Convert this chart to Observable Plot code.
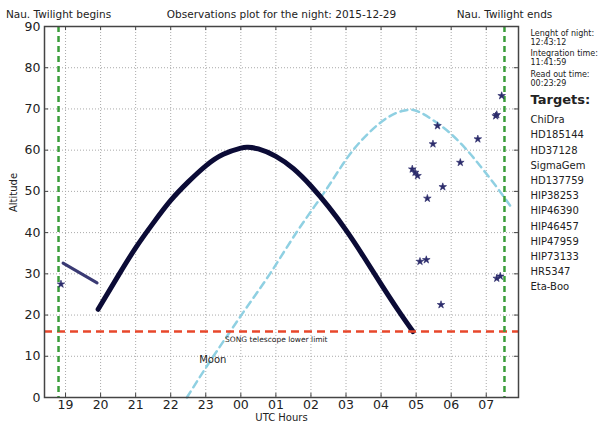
<!DOCTYPE html>
<html><head><meta charset="utf-8">
<script src="https://cdn.jsdelivr.net/npm/d3@7"></script>
<script src="https://cdn.jsdelivr.net/npm/@observablehq/plot@0.6"></script>
<style>body{margin:0;background:#fff;font-family:"DejaVu Sans",sans-serif}</style>
</head><body><div id="chart"></div>
<script>
const plotTitle = "Observations plot for the night: 2015-12-29";
const twilightBegin = 18.80;
const twilightEnd = 31.52;
const limitAltitude = 16;
const xTicks = [19, 20, 21, 22, 23, 24, 25, 26, 27, 28, 29, 30, 31];
const xTickLabels = ["19", "20", "21", "22", "23", "00", "01", "02", "03", "04", "05", "06", "07"];
const yTicks = [0, 10, 20, 30, 40, 50, 60, 70, 80, 90];

// main target track (UTC hours, >24 = next day)
const mainHours = [19.93, 20.5, 21.0, 21.5, 22.0, 22.5, 23.0, 23.5, 24.0, 24.2, 24.5, 25.0, 25.5, 26.0, 26.5, 27.0, 27.5, 28.0, 28.5, 28.91];
const mainAlt   = [21.4, 29.5, 36.3, 42.3, 47.8, 52.3, 56.2, 59.0, 60.5, 60.7, 60.3, 58.5, 55.5, 51.3, 46.3, 40.6, 34.2, 27.5, 21.0, 16.0];

// first target (ChiDra) short track
const firstHours = [18.93, 19.90];
const firstAlt   = [32.6, 27.8];

// single exposures (stars)
const starHours = [18.87, 31.44, 31.27, 31.30, 29.61, 29.48, 30.76, 30.26, 28.89, 28.97, 29.04, 29.76, 29.32, 29.11, 29.29, 31.30, 31.40, 29.71];
const starAlt   = [27.5, 73.2, 68.3, 68.6, 65.9, 61.5, 62.7, 57.0, 55.4, 54.6, 53.8, 51.1, 48.3, 33.0, 33.4, 28.9, 29.4, 22.5];

// Moon altitude
const moonHours = [22.46, 23.0, 24.0, 24.83, 25.6, 26.4, 27.2, 27.7, 28.2, 28.6, 28.85, 29.2, 29.48, 29.96, 30.43, 30.9, 31.38, 31.75];
const moonAlt   = [0, 7.2, 19.8, 30.0, 40.2, 50.0, 60.0, 64.6, 68.0, 69.5, 69.8, 68.8, 67.3, 64.2, 60.2, 55.4, 50.1, 45.7];

const infoNight = ["Lenght of night:", "12:43:12"];
const infoIntegration = ["Integration time:", "11:41:59"];
const infoReadout = ["Read out time:", "00:23:29"];
const targetsHeading = "Targets:";
const targetNames = ["ChiDra", "HD185144", "HD37128", "SigmaGem", "HD137759", "HIP38253", "HIP46390", "HIP46457", "HIP47959", "HIP73133", "HR5347", "Eta-Boo"];

const main = mainHours.map((h, i) => ({h, a: mainAlt[i]}));
const first = firstHours.map((h, i) => ({h, a: firstAlt[i]}));
const stars = starHours.map((h, i) => ({h, a: starAlt[i]}));
const moon = moonHours.map((h, i) => ({h, a: moonAlt[i]}));
const xDomain = [twilightBegin - 0.4, twilightEnd + 0.4];
const yDomain = [0, 90];

const font = "DejaVu Sans";
const chart = Plot.plot({
  width: 598, height: 426,
  marginLeft: 44, marginRight: 80, marginTop: 26, marginBottom: 29,
  style: {fontFamily: font, fontSize: "12.5px", background: "#fff", color: "#222"},
  x: {domain: xDomain, ticks: xTicks, tickFormat: d => xTickLabels[xTicks.indexOf(d)], tickSize: 0, tickPadding: 3, label: null},
  y: {domain: yDomain, ticks: yTicks, tickSize: 0, tickPadding: 4, label: null},
  marks: [
    Plot.ruleX(xTicks, {stroke: "#aaa", strokeDasharray: "1,2", strokeWidth: 1}),
    Plot.ruleY(yTicks.slice(1, -1), {stroke: "#aaa", strokeDasharray: "1,2", strokeWidth: 1}),
    // inward tick marks
    Plot.ruleX(xTicks, {y1: yDomain[0], y2: yDomain[0] + 1, stroke: "#444"}),
    Plot.ruleX(xTicks, {y1: yDomain[1] - 1, y2: yDomain[1], stroke: "#444"}),
    Plot.ruleY(yTicks, {x1: xDomain[0], x2: xDomain[0] + 0.12, stroke: "#444"}),
    Plot.ruleY(yTicks, {x1: xDomain[1] - 0.12, x2: xDomain[1], stroke: "#444"}),
    Plot.line(moon, {x: "h", y: "a", stroke: "#8fd0e2", strokeWidth: 2.5, strokeDasharray: "7,5", curve: "monotone-x"}),
    Plot.line(main, {x: "h", y: "a", stroke: "#0b0b36", strokeWidth: 5, curve: "natural"}),
    Plot.line(first, {x: "h", y: "a", stroke: "#3a3a74", strokeWidth: 3}),
    Plot.ruleY([limitAltitude], {stroke: "#e8472b", strokeWidth: 2.5, strokeDasharray: "8,5"}),
    Plot.ruleX([twilightBegin, twilightEnd], {stroke: "#3a9d3a", strokeWidth: 2.5, strokeDasharray: "6,4"}),
    Plot.dot(stars, {x: "h", y: "a", symbol: "star", r: 2.4, fill: "#2b2b6b", stroke: "#2b2b6b", strokeWidth: 0.6}),
    Plot.frame({stroke: "#444", strokeWidth: 1.5}),
    Plot.text(["Moon"], {x: 23.2, y: 9.1, text: d => d, fontSize: 10, fill: "#222"}),
    Plot.text(["SONG telescope lower limit"], {x: twilightBegin + 4.75, y: limitAltitude, dy: 8, text: d => d, textAnchor: "start", fontSize: 7.5, fill: "#222"}),
    Plot.text([plotTitle], {frameAnchor: "top", dy: -15.5, text: d => d, fontSize: 10.5}),
    Plot.text([twilightBegin], {x: d => d, frameAnchor: "top", dy: -15.5, text: () => "Nau. Twilight begins", fontSize: 10.5}),
    Plot.text([twilightEnd], {x: d => d, frameAnchor: "top", dy: -15.5, text: () => "Nau. Twilight ends", fontSize: 10.5}),
    Plot.text(["Altitude"], {frameAnchor: "left", dx: -31, rotate: -90, text: d => d, fontSize: 10}),
    Plot.text(["UTC Hours"], {frameAnchor: "bottom", dy: 23, text: d => d, fontSize: 10}),
    Plot.text([infoNight.join("\n")], {frameAnchor: "top-right", dx: 12, dy: 3, textAnchor: "start", lineAnchor: "top", lineHeight: 1.15, text: d => d, fontSize: 8}),
    Plot.text([infoIntegration.join("\n")], {frameAnchor: "top-right", dx: 12, dy: 23, textAnchor: "start", lineAnchor: "top", lineHeight: 1.15, text: d => d, fontSize: 8}),
    Plot.text([infoReadout.join("\n")], {frameAnchor: "top-right", dx: 12, dy: 44, textAnchor: "start", lineAnchor: "top", lineHeight: 1.15, text: d => d, fontSize: 8}),
    Plot.text([targetsHeading], {frameAnchor: "top-right", dx: 12, dy: 68, textAnchor: "start", lineAnchor: "top", text: d => d, fontSize: 13, fontWeight: "bold"}),
    Plot.text([targetNames.join("\n")], {frameAnchor: "top-right", dx: 12, dy: 86, textAnchor: "start", lineAnchor: "top", lineHeight: 1.52, text: d => d, fontSize: 10})
  ]
});
document.getElementById("chart").append(chart);
</script>
</body></html>
